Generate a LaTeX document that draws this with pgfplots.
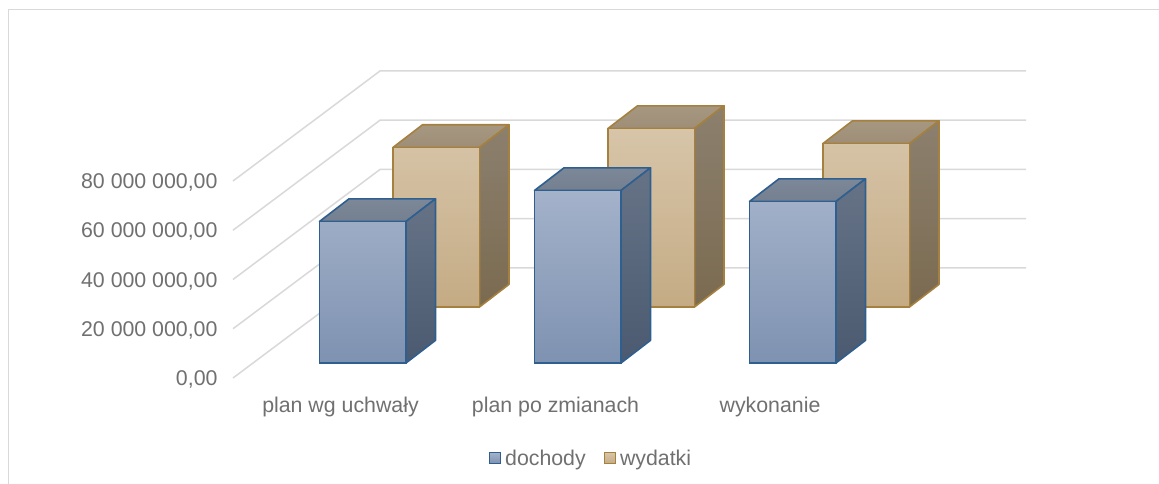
\documentclass[border=0pt]{standalone}
\usepackage{fontspec}
\setmainfont{Liberation Sans}
\usepackage{pgfplots}
\usepackage{pgfplotstable}
\pgfplotsset{compat=1.18}
\definecolor{txt}{HTML}{707070}
\definecolor{gridc}{HTML}{D9D9D9}
\definecolor{bedge}{HTML}{2F5F8F}
\definecolor{bft}{HTML}{A4B2CA}
\definecolor{bfb}{HTML}{7E92B1}
\definecolor{btt}{HTML}{7C8798}
\definecolor{btb}{HTML}{747F90}
\definecolor{bst}{HTML}{667387}
\definecolor{bsb}{HTML}{4B5A70}
\definecolor{tedge}{HTML}{A5803F}
\definecolor{tft}{HTML}{D7C5A9}
\definecolor{tfb}{HTML}{C4AB84}
\definecolor{ttt}{HTML}{A69781}
\definecolor{ttb}{HTML}{9E8E78}
\definecolor{tst}{HTML}{8C806E}
\definecolor{tsb}{HTML}{7A6A50}
% values in millions
\pgfplotstableread{
x value
362.75 57.47
577.75 70.06
792.75 65.60
}\dochody
\pgfplotstableread{
x value
436.25 64.80
651.25 72.50
866.25 66.40
}\wydatki
\newcommand{\faces}[7]{% centre, value, edge, top t/b, side t/b
  \pgfmathsetmacro{\xl}{#1-43.25}\pgfmathsetmacro{\xr}{#1+43.25}
  \pgfmathsetmacro{\xa}{\xl+29.5}\pgfmathsetmacro{\xb}{\xr+29.5}
  \pgfmathsetmacro{\vt}{#2+9.2}\pgfmathsetmacro{\vb}{9.2}
  \addplot[top color=#4,bottom color=#5,draw=#3,line width=1.6bp,line join=round,forget plot]
    coordinates {(\xl,#2)(\xr,#2)(\xb,\vt)(\xa,\vt)} -- cycle;
  \addplot[top color=#6,bottom color=#7,draw=#3,line width=1.6bp,line join=round,forget plot]
    coordinates {(\xr,#2)(\xb,\vt)(\xb,\vb)(\xr,0)} -- cycle;
}
\pgfplotsset{layerax/.style={
  scale only axis, width=1159bp, height=197bp, xmin=0, xmax=1159, ymin=0, ymax=80,
  hide axis, clip=false}}
\begin{document}
\begin{tikzpicture}[x=1bp,y=1bp]
\useasboundingbox (0,0) rectangle (1159,484);
\fill[white] (0,0) rectangle (1159,484);
\draw[gridc,line width=1.5bp] (8.5,0) -- (8.5,474.5) -- (1159,474.5);
% walls and value axis
\begin{axis}[at={(233bp,106bp)},anchor=south west,scale only axis,
  width=793bp,height=307bp,xmin=233,xmax=1026,ymin=0,ymax=124.67,
  axis line style={draw=none},tick style={draw=none},clip=false,
  ytick={0,20,40,60,80},
  yticklabels={{0,00},{20 000 000,00},{40 000 000,00},{60 000 000,00},{80 000 000,00}},
  xtick={340.5,555.5,770},
  xticklabels={plan wg uchwały,plan po zmianach,wykonanie},
  tick label style={font=\fontsize{21.4}{24}\selectfont,text=txt},
  yticklabel style={xshift=-12bp,yshift=-1.5bp},
  xticklabel style={yshift=-16bp},
]
\foreach \v in {0,20,40,60,80}{
  \pgfmathsetmacro{\vb}{\v+44.67}
  \edef\tmp{\noexpand\addplot[gridc,line width=1.5bp,forget plot] coordinates {(233,\v)(380,\vb)(1026,\vb)};}
  \tmp
}
\end{axis}
% back series
\begin{axis}[layerax,at={(0bp,177bp)},anchor=south west]
\faces{436.25}{64.80}{tedge}{ttt}{ttb}{tst}{tsb}
\faces{651.25}{72.50}{tedge}{ttt}{ttb}{tst}{tsb}
\faces{866.25}{66.40}{tedge}{ttt}{ttb}{tst}{tsb}
\addplot[ybar,bar width=86.5,bar shift=0pt,top color=tft,bottom color=tfb,draw=tedge,line width=1.6bp,forget plot]
  table[x=x,y=value] {\wydatki};
\end{axis}
% front series
\begin{axis}[layerax,at={(0bp,121bp)},anchor=south west,
  legend style={at={(axis cs:591,-38.8)},anchor=center,draw=none,fill=none,legend columns=2,
    font=\fontsize{21.4}{24}\selectfont,text=txt,inner sep=0pt,
    /tikz/every even column/.style={column sep=16bp},
    /tikz/every odd column/.style={column sep=2bp}},
  legend cell align=left]
\faces{362.75}{57.47}{bedge}{btt}{btb}{bst}{bsb}
\faces{577.75}{70.06}{bedge}{btt}{btb}{bst}{bsb}
\faces{792.75}{65.60}{bedge}{btt}{btb}{bst}{bsb}
\addplot[ybar,bar width=86.5,bar shift=0pt,top color=bft,bottom color=bfb,draw=bedge,line width=1.6bp,forget plot]
  table[x=x,y=value] {\dochody};
\addlegendimage{legend image code/.code={\draw[top color=bft,bottom color=bfb,draw=bedge,line width=1.3bp] (0bp,-5bp) rectangle (11bp,6bp);}}
\addlegendentry{dochody}
\addlegendimage{legend image code/.code={\draw[top color=tft,bottom color=tfb,draw=tedge,line width=1.3bp] (0bp,-5bp) rectangle (11bp,6bp);}}
\addlegendentry{wydatki}
\end{axis}
\end{tikzpicture}
\end{document}
